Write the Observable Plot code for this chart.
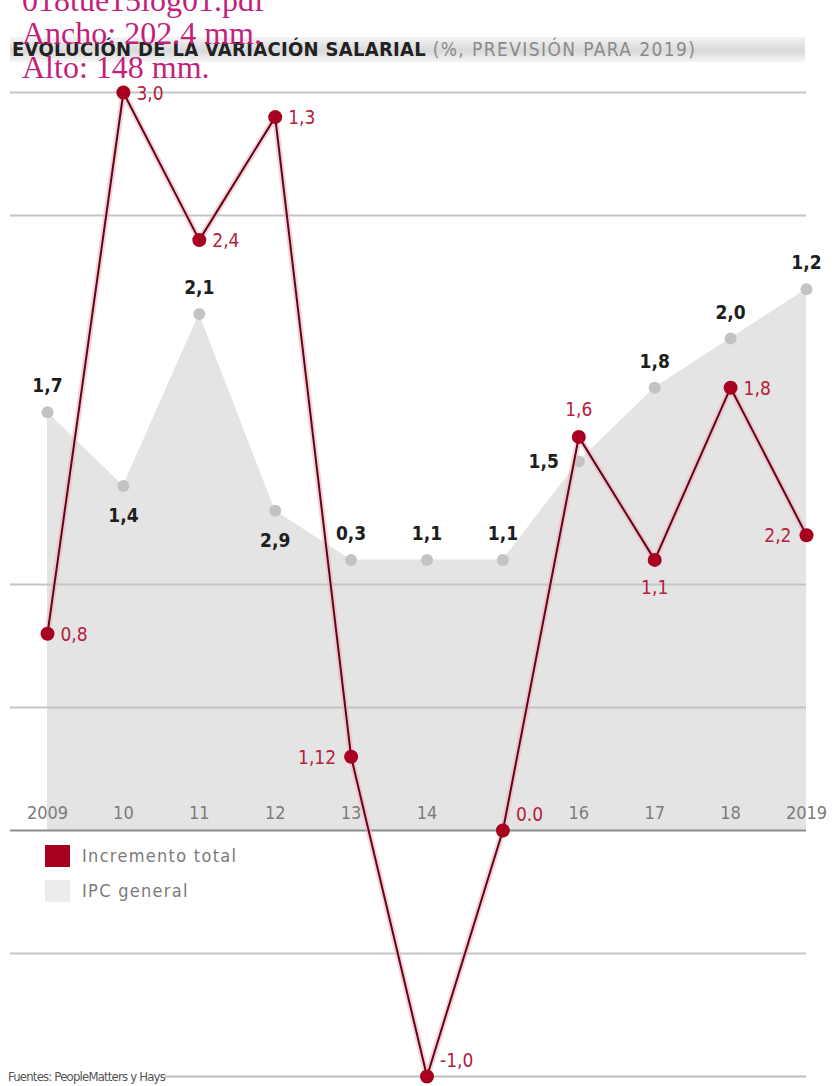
<!DOCTYPE html>
<html>
<head>
<meta charset="utf-8">
<script src="https://cdn.jsdelivr.net/npm/d3@7"></script>
<script src="https://cdn.jsdelivr.net/npm/@observablehq/plot@0.6"></script>
<style>
  html, body { margin: 0; padding: 0; background: #fff; }
  body { width: 835px; height: 1086px; overflow: hidden; position: relative;
         font-family: "DejaVu Sans Condensed", "Liberation Sans Narrow", "Roboto", sans-serif; }
  #chart { position: absolute; left: 0; top: 0; }
  #band { position: absolute; left: 10px; top: 37px; width: 795px; height: 25px;
          background: linear-gradient(#f4f4f4, #d9d9d9 55%, #f6f6f6); }
  #title { position: absolute; left: 12px; top: 37px; height: 25px; line-height: 25px;
           font-size: 20px; white-space: nowrap; color: #222; font-weight: bold; letter-spacing: 0.3px; }
  #title span { font-weight: normal; color: #8a8a8a; font-size: 19px; letter-spacing: 1.4px; }
  .leg { position: absolute; left: 45px; font-size: 18px; color: #7a7a7a; white-space: nowrap; letter-spacing: 1.3px; }
  .leg i { position: absolute; left: 0; top: 0; width: 25px; height: 22px; }
  .leg b { position: absolute; left: 37px; top: 0; font-weight: normal; line-height: 22px; }
  #caption { position: absolute; left: 8px; top: 1069px; font-size: 13px; color: #555; white-space: nowrap; letter-spacing: -0.8px; }
  #stamp { position: absolute; left: 22px; top: -16.5px; font-family: "Liberation Serif", "DejaVu Serif", serif;
           font-size: 32px; line-height: 33.5px; color: #c41f7c; white-space: nowrap; }
</style>
</head>
<body>
<div id="band"></div>
<div id="title">EVOLUCIÓN DE LA VARIACIÓN SALARIAL <span>(%, PREVISIÓN PARA 2019)</span></div>
<div id="chart"></div>
<div class="leg" style="top:845px"><i style="background:#a8001f"></i><b>Incremento total</b></div>
<div class="leg" style="top:880px"><i style="background:#ececec"></i><b>IPC general</b></div>
<div id="caption">Fuentes: PeopleMatters y Hays</div>
<div id="stamp">018tue15log01.pdf<br>Ancho: 202.4 mm.<br>Alto: 148 mm.</div>
<script>
// ---- data ----
const years = [2009, 2010, 2011, 2012, 2013, 2014, 2015, 2016, 2017, 2018, 2019];
const tickLabels = ["2009", "10", "11", "12", "13", "14", "", "16", "17", "18", "2019"];
const incremento = [0.8, 3.0, 2.4, 2.9, 0.3, -1.0, 0.0, 1.6, 1.1, 1.8, 1.2];
const incrementoLabels = ["0,8", "3,0", "2,4", "1,3", "1,12", "-1,0", "0.0", "1,6", "1,1", "1,8", "2,2"];
const ipc = [1.7, 1.4, 2.1, 1.3, 1.1, 1.1, 1.1, 1.5, 1.8, 2.0, 2.2];
const ipcLabels = ["1,7", "1,4", "2,1", "2,9", "0,3", "1,1", "1,1", "1,5", "1,8", "2,0", "1,2"];
const gridValues = [3.0, 2.5, 1.0, 0.5, -0.5];
const bottomGrid = [-1.0];

// label placement (layout hints)
const ipcPlace = ["top", "bottom", "top", "bottom", "top", "top", "top", "left", "top", "top", "top"];
const incPlace = ["right", "right", "right", "right", "left", "upright", "upright", "top", "bottom", "right", "left"];

const ipcData = years.map((y, i) => ({year: y, v: ipc[i], label: ipcLabels[i], place: ipcPlace[i]}));
const incData = years.map((y, i) => ({year: y, v: incremento[i], label: incrementoLabels[i], place: incPlace[i]}));
const tickData = years.map((y, i) => ({year: y, label: tickLabels[i]}));

const RED = "#a8001f";
const REDTXT = "#b3213d";
const font = "DejaVu Sans Condensed, Liberation Sans Narrow, sans-serif";

function ipcText(place, opts) {
  return Plot.text(ipcData.filter(d => d.place === place), {
    x: "year", y: "v", text: "label", fill: "#1e1e1e", fontSize: 19, fontWeight: "bold",
    fontFamily: font, ...opts
  });
}
function incText(place, opts) {
  return Plot.text(incData.filter(d => d.place === place), {
    x: "year", y: "v", text: "label", fill: REDTXT, fontSize: 19,
    fontFamily: font, ...opts
  });
}

const chart = Plot.plot({
  width: 835,
  height: 1086,
  marginLeft: 47,
  marginRight: 29,
  marginTop: 92,
  marginBottom: 10,
  x: {type: "linear", domain: [2009, 2019], axis: null},
  y: {domain: [-1.0, 3.0], axis: null},
  style: {background: "transparent"},
  marks: [
    Plot.areaY(ipcData, {x: "year", y: "v", fill: "#e4e4e4"}),
    Plot.ruleY(gridValues, {stroke: "#c4c4c4", strokeWidth: 2, insetLeft: -37}),
    Plot.ruleY(bottomGrid, {stroke: "#bdbdbd", strokeWidth: 2, insetLeft: 118}),
    Plot.ruleY([0], {stroke: "#8c8c8c", strokeWidth: 2, insetLeft: -37}),
    Plot.text(tickData, {x: "year", y: () => 0, text: "label", dy: -17, fill: "#7c7c7c",
      fontSize: 18, fontFamily: font, letterSpacing: "3px"}),
    Plot.dot(ipcData, {x: "year", y: "v", r: 6, fill: "#c3c3c3"}),
    Plot.lineY(incData, {x: "year", y: "v", stroke: "#f3b1c0", strokeWidth: 6, strokeOpacity: 0.6}),
    Plot.lineY(incData, {x: "year", y: "v", stroke: "#5c0818", strokeWidth: 2}),
    Plot.dot(incData, {x: "year", y: "v", r: 7, fill: RED}),
    ipcText("top", {dy: -26}),
    ipcText("bottom", {dy: 30}),
    ipcText("left", {dx: -20, textAnchor: "end"}),
    incText("right", {dx: 13, dy: 1, textAnchor: "start"}),
    incText("left", {dx: -15, dy: 1, textAnchor: "end"}),
    incText("upright", {dx: 13, dy: -16, textAnchor: "start"}),
    incText("top", {dy: -27}),
    incText("bottom", {dy: 28})
  ]
});
document.getElementById("chart").appendChild(chart);
</script>
</body>
</html>
